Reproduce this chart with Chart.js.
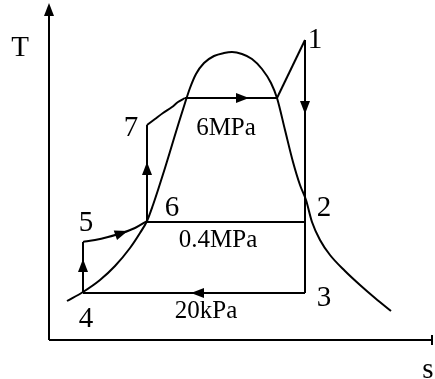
<!DOCTYPE html>
<html>
<head>
<meta charset="utf-8">
<script src="https://cdn.jsdelivr.net/npm/chart.js@4"></script>
<style>
html,body{margin:0;padding:0;background:#fff;}
#wrap{width:435px;height:379px;}
</style>
</head>
<body>
<div id="wrap"><canvas id="c" width="435" height="379"></canvas></div>
<script>
// Saturation dome (s, T) in arbitrary schematic units
const domeS = [18,34,51,66,81,91,98,104,109,116,123,130,136,141,147,155,165,175,183,193,203,213,222,228,236,244,251,257,263,271,281,296,311,326,342];
const domeT = [39,48,60,74,92,107,119,135,150,172,195,218,237,252,266,277,284,287,288,286,281,271,257,242,210,178,155,140,118,100,85,69,55,42,29];

// Cycle state points 1..7
const stateNames = ['1','2','3','4','5','6','7'];
const stateS = [256,256,256,34,34,98,98];
const stateT = [300,118,47,47,98,119,215];

// Process paths
const pump45S = [34,34];           const pump45T = [47,98];
const heat56S = [34,46,59,73,86,98]; const heat56T = [98,100,103,107,112,119];
const pump67S = [98,98];           const pump67T = [119,215];
const heat7S = [98,106,114,123,129,136]; const heat7T = [215,221,227,233,238,242];
const boilS = [136,228];           const boilT = [242,242];
const superS = [228,256];          const superT = [242,300];
const turbS = [256,256];           const turbT = [300,47];
const condS = [256,34];            const condT = [47,47];
const bleedS = [98,256];           const bleedT = [118,118];

// Pressure labels
const pressLabels = ['6MPa','0.4MPa','20kPa'];

// Axes
const axisYS = [0,0];   const axisYT = [0,330];
const axisXS = [0,383]; const axisXT = [0,0];

const toPts = (xs, ys) => xs.map((x, i) => ({x: x, y: ys[i]}));
const lineDs = (xs, ys, smooth) => ({
  data: toPts(xs, ys), showLine: true, borderColor: '#000', borderWidth: 2,
  pointRadius: 0, tension: smooth ? 0.4 : 0,
  cubicInterpolationMode: smooth ? 'monotone' : 'default',
  fill: false, clip: false
});

// arrows: [s, T, dirX, dirY] direction in screen sense (x right, y up)
const arrows = [
  [34,75,0,1],[73,107,1,0.35],[98,172,0,1],[194,242,1,0],[256,232,0,-1],[148,47,-1,0],[0,331,0,1]
];

// text labels: [text, s, T]
const labels = [
  ['T',-29,292],
  [stateNames[0],266,300],[stateNames[1],275,132],[stateNames[2],275,42],
  [stateNames[3],37,21],[stateNames[4],37,117],[stateNames[5],123,132],[stateNames[6],82,212],
  [pressLabels[0],177,212],[pressLabels[1],169,100],[pressLabels[2],157,29],
  ['s',379,-30]
];

const overlay = {
  id: 'overlay',
  afterDatasetsDraw(chart) {
    const ctx = chart.ctx, xs = chart.scales.x, ys = chart.scales.y;
    ctx.save();
    ctx.fillStyle = '#000';
    arrows.forEach(a => {
      const px = xs.getPixelForValue(a[0]), py = ys.getPixelForValue(a[1]);
      const ang = Math.atan2(-a[3], a[2]);
      ctx.save();
      ctx.translate(px, py);
      ctx.rotate(ang);
      ctx.beginPath();
      ctx.moveTo(6, 0);
      ctx.lineTo(-7, -5);
      ctx.lineTo(-7, 5);
      ctx.closePath();
      ctx.fill();
      ctx.restore();
    });
    // end tick of s axis
    const ex = xs.getPixelForValue(axisXS[1]), ey = ys.getPixelForValue(0);
    ctx.lineWidth = 2;
    ctx.beginPath(); ctx.moveTo(ex, ey - 5); ctx.lineTo(ex, ey + 5); ctx.stroke();
    ctx.textAlign = 'center';
    ctx.textBaseline = 'middle';
    labels.forEach(l => {
      const big = l[0].length === 1;
      ctx.font = (big ? '29px' : '25px') + ' "Liberation Serif", serif';
      ctx.fillText(l[0], xs.getPixelForValue(l[1]), ys.getPixelForValue(l[2]));
    });
    ctx.restore();
  }
};

new Chart(document.getElementById('c'), {
  type: 'scatter',
  data: { datasets: [
    lineDs(domeS, domeT, true),
    lineDs(pump45S, pump45T), lineDs(heat56S, heat56T, true), lineDs(pump67S, pump67T),
    lineDs(heat7S, heat7T, true), lineDs(boilS, boilT), lineDs(superS, superT),
    lineDs(turbS, turbT), lineDs(condS, condT), lineDs(bleedS, bleedT),
    lineDs(axisYS, axisYT), lineDs(axisXS, axisXT)
  ]},
  options: {
    responsive: false, animation: false,
    layout: { padding: { left: 49, right: 0, top: 10, bottom: 39 } },
    plugins: { legend: { display: false }, tooltip: { enabled: false } },
    scales: {
      x: { type: 'linear', min: 0, max: 386, display: false },
      y: { type: 'linear', min: 0, max: 330, display: false }
    }
  },
  plugins: [overlay]
});
</script>
</body>
</html>
